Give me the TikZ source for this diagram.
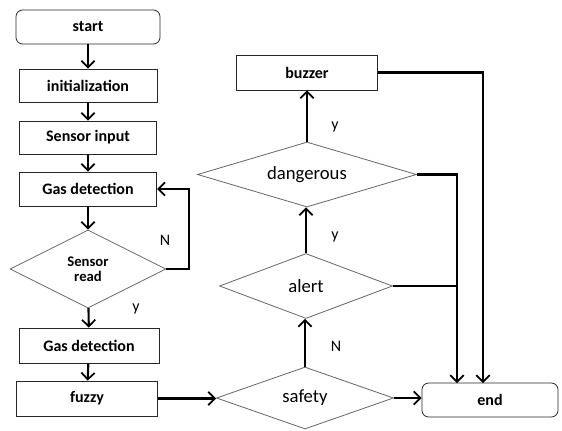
\documentclass[tikz,border=0pt]{standalone}
\usepackage{fontspec}
\setmainfont{Carlito}
\usetikzlibrary{shapes.geometric}
\usetikzlibrary{arrows.meta}

\tikzset{
  box/.style={draw=black!85, line width=0.6pt, inner sep=0pt, font=\fontsize{12}{14}\selectfont\bfseries},
  rbox/.style={box, rounded corners=5pt},
  decision/.style={diamond, aspect=3, draw=black!60, line width=0.6pt, inner sep=0pt, font=\fontsize{14}{16}\selectfont},
  lbl/.style={font=\fontsize{12}{14}\selectfont},
  flow/.style={line width=1.6pt, -{Straight Barb[length=5pt,width=10pt,line width=1.3pt]}}
}

\begin{document}
\begin{tikzpicture}[x=0.75pt,y=0.75pt,yscale=-1,xscale=1]
\fill[white] (0,0) rectangle (562,430);
\useasboundingbox (0,0) rectangle (562,430);

% left column
\node[rbox, minimum width=108pt, minimum height=25.5pt] (start) at (88,27) {start};
\node[box, minimum width=103.5pt, minimum height=24.75pt] (init) at (88,85.5) {initialization};
\node[box, minimum width=103pt, minimum height=24.75pt] (input) at (88,137.5) {Sensor input};
\node[box, minimum width=103pt, minimum height=25.5pt] (gas1) at (88,189) {Gas detection};
\node[decision, minimum width=117pt, minimum height=58.5pt, font=\fontsize{11}{11.5}\selectfont\bfseries, align=center] (read) at (88,269) {Sensor\\read};
\node[box, minimum width=105pt, minimum height=26.25pt] (gas2) at (89,345.5) {Gas detection};
\node[box, minimum width=105.75pt, minimum height=26.25pt] (fuzzy) at (87,398.5) {fuzzy};

% right column
\node[box, minimum width=105.75pt, minimum height=26.25pt] (buzzer) at (307,72.5) {buzzer};
\node[decision, minimum width=164.25pt, minimum height=48.75pt] (danger) at (307,174.5) {dangerous};
\node[decision, minimum width=129.75pt, minimum height=48.75pt] (alert) at (306,286) {alert};
\node[decision, minimum width=132.75pt, minimum height=46.5pt] (safety) at (305,398) {safety};
\node[rbox, minimum width=102pt, minimum height=25.5pt] (end) at (490,400) {end};

% branch labels
\node[lbl] (lblN1) at (165,240) {N};
\node[lbl] (lblY1) at (136,309) {y};
\node[lbl] (lblY2) at (335,127) {y};
\node[lbl] (lblY3) at (335,237) {y};
\node[lbl] (lblN2) at (336,346) {N};

% free ends
\coordinate (loopN) at (189,269);
\coordinate (endin1) at (457,383);
\coordinate (endin2) at (483,383);

% connectors
\draw[flow] (start) -- (init);
\draw[flow] (init) -- (input);
\draw[flow] (input) -- (gas1);
\draw[flow] (gas1) -- (read);
\draw[flow] (read.east) -- (loopN) |- (gas1.east);
\draw[flow] (read) -- (gas2);
\draw[flow] (gas2) -- (fuzzy);
\draw[flow] (fuzzy.east) -- (safety.west |- fuzzy.east);
\draw[flow] (safety.east) -- (end.west |- safety.east);
\draw[flow] (safety.north) -- (alert.south -| safety.north);
\draw[flow] (alert.north) -- (danger.south -| alert.north);
\draw[flow] (danger.north) -- (buzzer.south);
\draw[flow] (buzzer.east) -| (endin2);
\draw[flow] (danger.east) -| (endin1);
\draw[line width=1.6pt] (alert.east) -- (alert.east -| endin1);

\end{tikzpicture}
\end{document}
